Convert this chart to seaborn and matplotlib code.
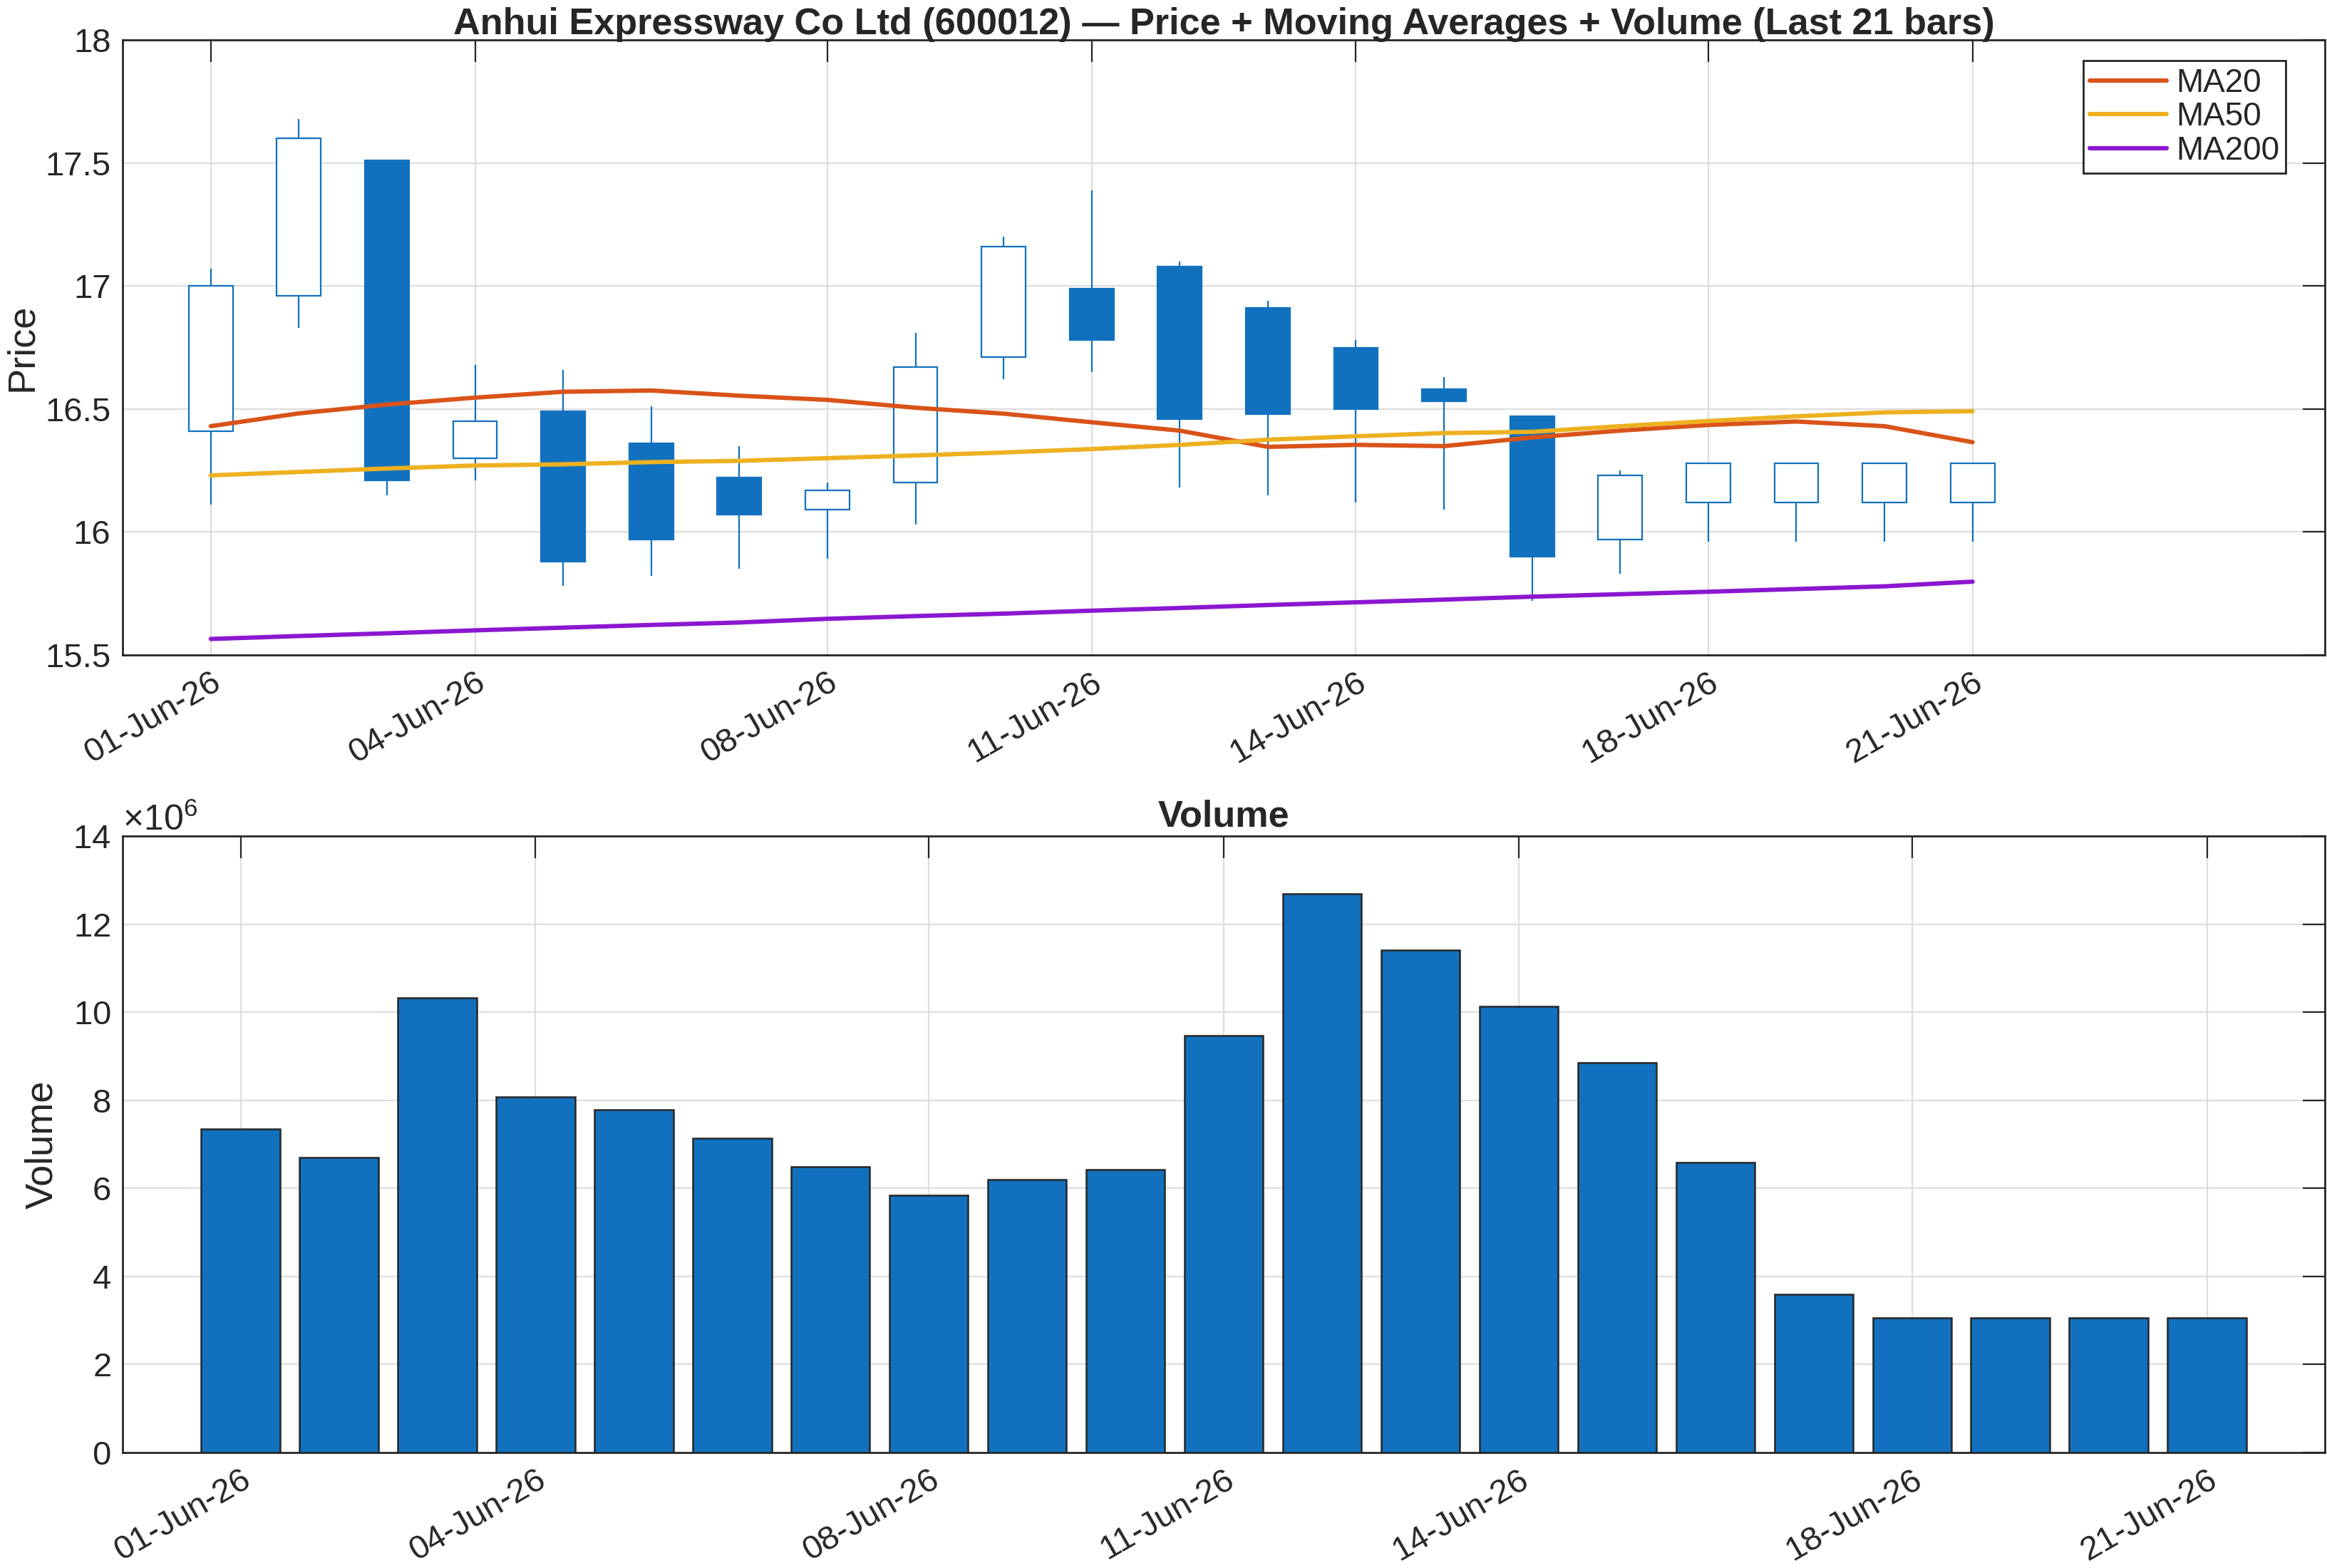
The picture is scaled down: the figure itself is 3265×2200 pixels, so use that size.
import numpy as np
import pandas as pd
import matplotlib
matplotlib.use("Agg")
import matplotlib.pyplot as plt
from matplotlib.ticker import ScalarFormatter, FixedLocator
import seaborn as sns

# ---------------- data ----------------
dates = pd.date_range("2026-06-01", periods=21, freq="D")
open_ = [16.41, 16.96, 17.51, 16.30, 16.49, 16.36, 16.22, 16.09, 16.20, 16.71, 16.99,
         17.08, 16.91, 16.75, 16.58, 16.47, 15.97, 16.12, 16.12, 16.12, 16.12]
close = [17.00, 17.60, 16.21, 16.45, 15.88, 15.97, 16.07, 16.17, 16.67, 17.16, 16.78,
         16.46, 16.48, 16.50, 16.53, 15.90, 16.23, 16.28, 16.28, 16.28, 16.28]
high = [17.07, 17.68, 17.51, 16.68, 16.66, 16.51, 16.35, 16.20, 16.81, 17.20, 17.39,
        17.10, 16.94, 16.78, 16.63, 16.47, 16.25, 16.28, 16.28, 16.28, 16.28]
low = [16.11, 16.83, 16.15, 16.21, 15.78, 15.82, 15.85, 15.89, 16.03, 16.62, 16.65,
       16.18, 16.15, 16.12, 16.09, 15.72, 15.83, 15.96, 15.96, 15.96, 15.96]
ma20 = [16.430, 16.482, 16.518, 16.546, 16.570, 16.575, 16.554, 16.537, 16.505, 16.481,
        16.446, 16.412, 16.346, 16.354, 16.349, 16.384, 16.412, 16.435, 16.449, 16.430, 16.365]
ma50 = [16.230, 16.244, 16.258, 16.270, 16.275, 16.284, 16.289, 16.300, 16.311, 16.323,
        16.337, 16.354, 16.375, 16.389, 16.402, 16.407, 16.430, 16.451, 16.470, 16.486, 16.491]
ma200 = [15.565, 15.577, 15.588, 15.600, 15.611, 15.622, 15.632, 15.647, 15.658, 15.668,
         15.680, 15.691, 15.703, 15.714, 15.725, 15.737, 15.747, 15.757, 15.768, 15.779, 15.798]
volume = [7.35e6, 6.70e6, 10.33e6, 8.07e6, 7.78e6, 7.14e6, 6.49e6, 5.84e6, 6.20e6, 6.43e6,
          9.47e6, 12.69e6, 11.41e6, 10.14e6, 8.85e6, 6.59e6, 3.59e6, 3.05e6, 3.05e6, 3.05e6, 3.05e6]
tick_dates = ["2026-06-01", "2026-06-04", "2026-06-08", "2026-06-11",
              "2026-06-14", "2026-06-18", "2026-06-21"]
title_top = "Anhui Expressway Co Ltd (600012) \u2014 Price + Moving Averages + Volume (Last 21 bars)"

# ---------------- style ----------------
sns.set_style("white")
plt.rcParams["font.family"] = ["Liberation Sans", "DejaVu Sans"]
plt.rcParams["mathtext.fontset"] = "custom"
plt.rcParams["mathtext.rm"] = "Liberation Sans"
BLUE = "#1171BE"
C20, C50, C200 = "#D95319", "#EDB120", "#8B17D1"
TXT = "#262626"
GRID = "#DEDEDE"
FS = 17
FT = 18.8
FL = 19.5

fig = plt.figure(figsize=(16.33, 11.0), dpi=200)
ax1 = fig.add_axes([0.0527, 0.5823, 0.9461, 0.3922])
ax2 = fig.add_axes([0.0527, 0.0738, 0.9461, 0.3929])

df = pd.DataFrame({"date": dates, "open": open_, "close": close, "high": high,
                   "low": low, "ma20": ma20, "ma50": ma50, "ma200": ma200,
                   "volume": volume})
df["up"] = df["close"] >= df["open"]
df["lo_body"] = df[["open", "close"]].min(axis=1)
df["h_body"] = (df["close"] - df["open"]).abs()

# ---------------- price panel ----------------
ax1.vlines(df["date"], df["low"], df["high"], color=BLUE, lw=0.8, zorder=2)
up = df[df["up"]]
dn = df[~df["up"]]
ax1.bar(up["date"], up["h_body"], bottom=up["lo_body"], width=0.5,
        facecolor="white", edgecolor=BLUE, linewidth=0.8, zorder=3)
ax1.bar(dn["date"], dn["h_body"], bottom=dn["lo_body"], width=0.5,
        facecolor=BLUE, edgecolor=BLUE, linewidth=0.8, zorder=3)
sns.lineplot(data=df, x="date", y="ma20", ax=ax1, color=C20, lw=2.2, label="MA20", zorder=4)
sns.lineplot(data=df, x="date", y="ma50", ax=ax1, color=C50, lw=2.2, label="MA50", zorder=4)
sns.lineplot(data=df, x="date", y="ma200", ax=ax1, color=C200, lw=2.2, label="MA200", zorder=4)

ax1.set_xlim(pd.Timestamp("2026-05-31"), pd.Timestamp("2026-06-25"))
ax1.set_ylim(15.5, 18)
ax1.set_yticks([15.5, 16, 16.5, 17, 17.5, 18])
ax1.set_yticklabels(["15.5", "16", "16.5", "17", "17.5", "18"])
tds = pd.to_datetime(tick_dates)
ax1.set_xticks(tds)
ax1.set_xticklabels([d.strftime("%d-%b-%y") for d in tds])
ax1.set_xlabel("")
ax1.set_ylabel("Price", fontsize=FL, color=TXT)
ax1.yaxis.set_label_coords(-0.0375, 0.5)
ax1.set_title(title_top, fontsize=FT, fontweight="bold", color=TXT, pad=3)
leg = ax1.legend(loc="upper right", bbox_to_anchor=(0.9822, 0.966), borderaxespad=0,
                 fontsize=16.5, frameon=True, fancybox=False, edgecolor=TXT, framealpha=1,
                 borderpad=0.2, labelspacing=0.08, handlelength=2.35, handletextpad=0.28)
leg.get_frame().set_linewidth(1.0)

# ---------------- volume panel ----------------
vlabels = [d.strftime("%d-%b-%y") for d in dates]
sns.barplot(x=vlabels, y=volume, ax=ax2, color=BLUE, saturation=1, width=0.8,
            edgecolor="#262626", linewidth=0.9, zorder=3)
ax2.set_xlim(-1.2, 21.2)
ax2.set_ylim(0, 14e6)
ax2.set_yticks(np.arange(0, 14.1e6, 2e6))
pos = [vlabels.index(d.strftime("%d-%b-%y")) for d in tds]
ax2.xaxis.set_major_locator(FixedLocator(pos))
ax2.set_xticklabels([d.strftime("%d-%b-%y") for d in tds])
sf = ScalarFormatter(useMathText=True)
sf.set_powerlimits((6, 6))
ax2.yaxis.set_major_formatter(sf)
ax2.set_ylabel("Volume", fontsize=FL, color=TXT)
ax2.yaxis.set_label_coords(-0.0285, 0.5)
ax2.set_title("Volume", fontsize=FT, fontweight="bold", color=TXT, pad=5)

for ax in (ax1, ax2):
    ax.grid(True, color=GRID, lw=0.8, zorder=0)
    ax.set_axisbelow(True)
    ax.tick_params(direction="in", length=11, width=0.8, top=True, right=True,
                   colors=TXT, labelsize=FS, pad=6)
    for sp in ax.spines.values():
        sp.set_visible(True)
        sp.set_color(TXT)
        sp.set_linewidth(1.0)
    for lab in ax.get_xticklabels():
        lab.set_rotation(30)
        lab.set_ha("right")
        lab.set_rotation_mode("anchor")

ax2.yaxis.get_offset_text().set_fontsize(FS + 1)
ax2.yaxis.get_offset_text().set_color(TXT)

fig.savefig("out.png", dpi=200, facecolor="white")
